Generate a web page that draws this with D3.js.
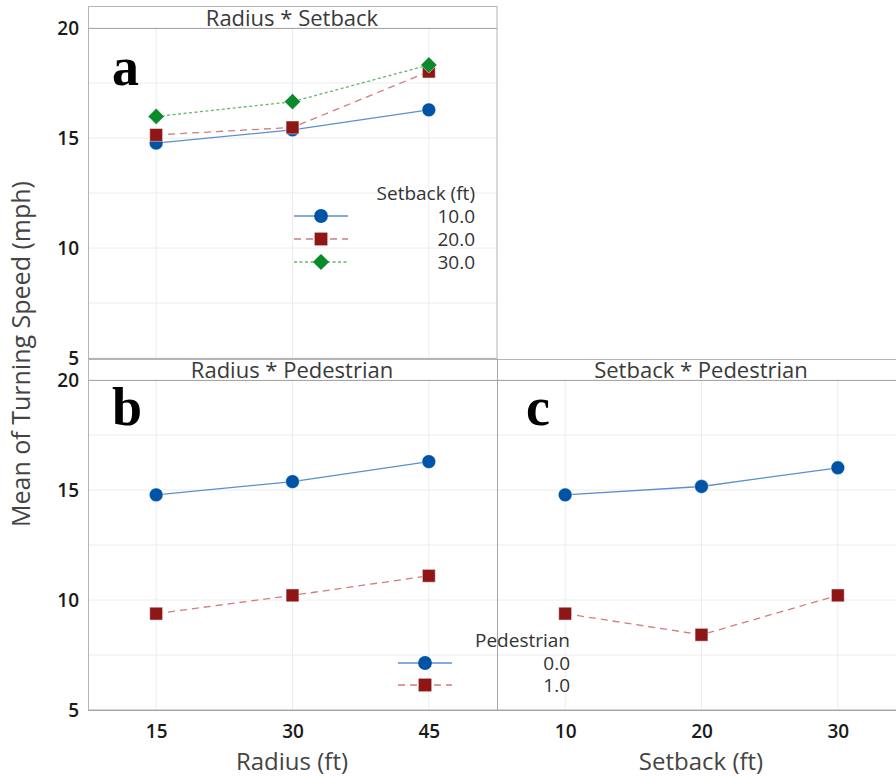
<!DOCTYPE html>
<html><head><meta charset="utf-8">
<script src="https://cdn.jsdelivr.net/npm/d3@7"></script>
<style>
html,body{margin:0;padding:0;background:#fff;}
svg{display:block;font-family:"Open Sans","Noto Sans",sans-serif;}
</style></head>
<body><svg id="chart" width="896" height="776"></svg>
<script>
// ---- data ----
const radiusLevels = [15, 30, 45];
const setbackLevels = [10, 20, 30];
const yTicks = [5, 10, 15, 20];
const yGrid = [5, 7.5, 10, 12.5, 15, 17.5, 20];
// Panel a: Radius * Setback
const rsSetback10 = [14.77, 15.37, 16.28];
const rsSetback20 = [15.14, 15.48, 18.02];
const rsSetback30 = [15.98, 16.65, 18.32];
// Panel b: Radius * Pedestrian
const rpPed0 = [14.78, 15.38, 16.29];
const rpPed1 = [9.38, 10.21, 11.10];
// Panel c: Setback * Pedestrian
const spPed0 = [14.78, 15.16, 16.01];
const spPed1 = [9.38, 8.42, 10.21];

const setbackLegend = ["10.0", "20.0", "30.0"];
const pedLegend = ["0.0", "1.0"];

// ---- styles ----
const styles = [
  {fill:"#0054A6", line:"#5b8fd0", dash:null, shape:d3.symbolCircle, size:150, rot:0},
  {fill:"#8E1616", line:"#d27c7c", dash:"7,5", shape:d3.symbolSquare, size:165, rot:0},
  {fill:"#0A8A2A", line:"#62b869", dash:"3,2.5", shape:d3.symbolSquare, size:132, rot:45}
];

const svg = d3.select("#chart");

// ---- scales ----
const xR = d3.scaleLinear().domain([7.5, 52.5]).range([88, 497]);
const xS = d3.scaleLinear().domain([5, 35]).range([497, 906]);
const yTop = d3.scaleLinear().domain([5, 20]).range([358, 28]);
const yBot = d3.scaleLinear().domain([5, 20]).range([710, 380]);

const gridColor = "#ececec";
const frameColor = "#b4b4b4";

function grid(x, y, xLevels) {
  const g = svg.append("g");
  g.selectAll("line.h").data(yGrid).join("line")
    .attr("x1", x.range()[0]).attr("x2", x.range()[1])
    .attr("y1", d => y(d)).attr("y2", d => y(d))
    .attr("stroke", gridColor).attr("stroke-width", 1);
  g.selectAll("line.v").data(xLevels).join("line")
    .attr("x1", d => x(d)).attr("x2", d => x(d))
    .attr("y1", y.range()[0]).attr("y2", y.range()[1])
    .attr("stroke", gridColor).attr("stroke-width", 1);
}
grid(xR, yTop, radiusLevels);
grid(xR, yBot, radiusLevels);
grid(xS, yBot, setbackLevels);

// ---- frames ----
svg.append("rect").attr("x", 88.5).attr("y", 6.5).attr("width", 408.5).attr("height", 352)
  .attr("fill", "none").attr("stroke", frameColor);
svg.append("line").attr("x1", 88).attr("x2", 497).attr("y1", 28.5).attr("y2", 28.5).attr("stroke", "#a6a6a6");
svg.append("rect").attr("x", 88.5).attr("y", 359.5).attr("width", 830).attr("height", 350.5)
  .attr("fill", "none").attr("stroke", frameColor);
svg.append("line").attr("x1", 88).attr("x2", 906).attr("y1", 380.5).attr("y2", 380.5).attr("stroke", "#a6a6a6");
svg.append("line").attr("x1", 497.5).attr("x2", 497.5).attr("y1", 359).attr("y2", 710).attr("stroke", "#a6a6a6");
svg.append("line").attr("x1", 88).attr("x2", 906).attr("y1", 710.5).attr("y2", 710.5).attr("stroke", "#a6a6a6");

// ---- strip titles ----
[["Radius * Setback", 292, 26], ["Radius * Pedestrian", 292, 378], ["Setback * Pedestrian", 701, 378]]
  .forEach(([t, x, y]) => svg.append("text").attr("x", x).attr("y", y).attr("text-anchor", "middle")
    .attr("font-size", "22px").attr("fill", "#3a3a3a").text(t));

// ---- axes ----
function yAxis(y) {
  const g = svg.append("g").attr("transform", "translate(79,0)")
    .call(d3.axisLeft(y).tickValues(yTicks).tickSize(0).tickPadding(0).tickFormat(d3.format("d")));
  g.select(".domain").remove();
  g.selectAll("text").attr("font-size", "19px").attr("font-weight", 600).attr("fill", "#1a1a1a")
    .attr("font-family", "'Open Sans','Noto Sans',sans-serif");
}
yAxis(yTop);
yAxis(yBot);

function xAxis(x, levels) {
  const g = svg.append("g").attr("transform", "translate(0,724)")
    .call(d3.axisBottom(x).tickValues(levels).tickSize(0).tickPadding(0).tickFormat(d3.format("d")));
  g.select(".domain").remove();
  g.selectAll("text").attr("font-size", "19px").attr("font-weight", 600).attr("fill", "#1a1a1a")
    .attr("font-family", "'Open Sans','Noto Sans',sans-serif");
}
xAxis(xR, radiusLevels);
xAxis(xS, setbackLevels);

svg.append("text").attr("x", 292).attr("y", 770).attr("text-anchor", "middle")
  .attr("font-size", "24px").attr("fill", "#444").text("Radius (ft)");
svg.append("text").attr("x", 701).attr("y", 770).attr("text-anchor", "middle")
  .attr("font-size", "24px").attr("fill", "#444").text("Setback (ft)");
svg.append("text").attr("transform", "translate(30,354) rotate(-90)").attr("text-anchor", "middle")
  .attr("font-size", "25px").attr("fill", "#444").text("Mean of Turning Speed (mph)");

// ---- series ----
function series(x, y, levels, vals, st) {
  const pts = levels.map((l, i) => [x(l), y(vals[i])]);
  svg.append("path").attr("d", d3.line()(pts)).attr("fill", "none")
    .attr("stroke", st.line).attr("stroke-width", 1.3)
    .attr("stroke-dasharray", st.dash);
  svg.append("g").selectAll("path").data(pts).join("path")
    .attr("transform", d => `translate(${d[0]},${d[1]}) rotate(${st.rot})`)
    .attr("d", d3.symbol().type(st.shape).size(st.size))
    .attr("fill", st.fill).attr("stroke", "#ffffff").attr("stroke-opacity", 0.6).attr("stroke-width", 0.8);
}
series(xR, yTop, radiusLevels, rsSetback10, styles[0]);
series(xR, yTop, radiusLevels, rsSetback20, styles[1]);
series(xR, yTop, radiusLevels, rsSetback30, styles[2]);
series(xR, yBot, radiusLevels, rpPed0, styles[0]);
series(xR, yBot, radiusLevels, rpPed1, styles[1]);
series(xS, yBot, setbackLevels, spPed0, styles[0]);
series(xS, yBot, setbackLevels, spPed1, styles[1]);

// ---- legends ----
function legend(title, labels, xl0, xl1, xm, xt, yTitle, yFirst, step) {
  const g = svg.append("g");
  g.append("text").attr("x", xt).attr("y", yTitle).attr("text-anchor", "end")
    .attr("font-size", "19px").attr("font-weight", 500).attr("fill", "#333").text(title);
  labels.forEach((lab, i) => {
    const st = styles[i];
    const yy = yFirst + i * step;
    g.append("line").attr("x1", xl0).attr("x2", xl1).attr("y1", yy).attr("y2", yy)
      .attr("stroke", st.line).attr("stroke-width", 1.3).attr("stroke-dasharray", st.dash);
    g.append("path").attr("transform", `translate(${xm},${yy}) rotate(${st.rot})`)
      .attr("d", d3.symbol().type(st.shape).size(st.size)).attr("fill", st.fill);
    g.append("text").attr("x", xt).attr("y", yy + 7).attr("text-anchor", "end")
      .attr("font-size", "19px").attr("font-weight", 500).attr("fill", "#333").text(lab);
  });
}
legend("Setback (ft)", setbackLegend, 294, 348, 321, 475, 200, 216, 23);
legend("Pedestrian", pedLegend, 398, 452, 425, 570, 647, 663, 22);

// ---- panel letters ----
[["a", 112, 85], ["b", 112, 425], ["c", 526, 425]].forEach(([t, x, y]) =>
  svg.append("text").attr("x", x).attr("y", y).attr("font-family", "'Liberation Serif','Times New Roman',serif")
    .attr("font-weight", "bold").attr("font-size", "54px").attr("fill", "#000").text(t));
</script></body></html>
